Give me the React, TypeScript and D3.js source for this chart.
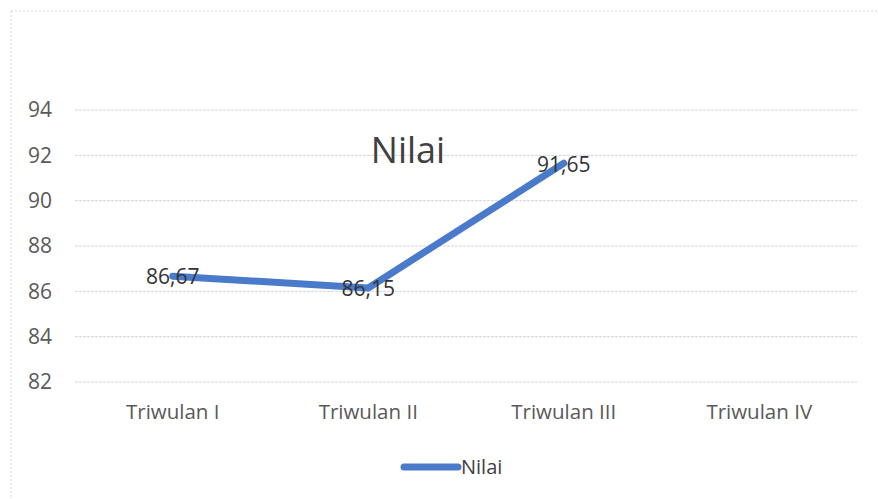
import React from "react";
import * as d3 from "d3";

const categories = ["Triwulan I", "Triwulan II", "Triwulan III", "Triwulan IV"];
const values: (number | null)[] = [86.67, 86.15, 91.65, null];
const valueLabels = ["86,67", "86,15", "91,65", ""];
const yTicks = [82, 84, 86, 88, 90, 92, 94];
const seriesName = "Nilai";
const title = "Nilai";

const W = 878;
const H = 499;
const FONT = "'Open Sans', Lato, sans-serif";

export default function App() {
  const x = d3.scaleBand<string>().domain(categories).range([75, 857]);
  const y = d3.scaleLinear().domain([82, 94]).range([382, 110]);
  const pts = categories
    .map((c, i) => ({ c, v: values[i], l: valueLabels[i] }))
    .filter((d) => d.v != null) as { c: string; v: number; l: string }[];
  const line = d3
    .line<{ c: string; v: number }>()
    .x((d) => (x(d.c) as number) + x.bandwidth() / 2)
    .y((d) => y(d.v));
  return (
    <svg
      width={W}
      height={H}
      style={{ position: "absolute", left: 0, top: 0, background: "#fff" }}
      fontFamily={FONT}
    >
      <rect x={0} y={0} width={W} height={H} fill="#fff" />
      <line x1={11} x2={W} y1={11} y2={11} stroke="#d9d9d9" strokeDasharray="2,2" />
      <line x1={11} x2={11} y1={11} y2={H} stroke="#d9d9d9" strokeDasharray="2,2" />
      {yTicks.map((t) => (
        <g key={t}>
          <line x1={75} x2={857} y1={y(t)} y2={y(t)} stroke="#d4d4dc" strokeWidth={1} strokeDasharray="3,1" />
          <text x={52} y={y(t)} dy="0.35em" textAnchor="end" fontSize={21} fill="#595959">
            {t}
          </text>
        </g>
      ))}
      {categories.map((c) => (
        <text
          key={c}
          x={(x(c) as number) + x.bandwidth() / 2}
          y={412}
          dy="0.35em"
          textAnchor="middle"
          fontSize={20.5}
          fill="#595959"
        >
          {c}
        </text>
      ))}
      <text x={408} y={150} dy="0.35em" textAnchor="middle" fontSize={36} fill="#404040">
        {title}
      </text>
      <path d={line(pts) || ""} fill="none" stroke="#4a7bcb" strokeWidth={7} strokeLinejoin="round" strokeLinecap="round" />
      {pts.map((d) => (
        <text
          key={d.c}
          x={(x(d.c) as number) + x.bandwidth() / 2}
          y={y(d.v) + 1}
          dy="0.35em"
          textAnchor="middle"
          fontSize={21}
          fill="#333"
        >
          {d.l}
        </text>
      ))}
      <line x1={404} x2={458} y1={467} y2={467} stroke="#4a7bcb" strokeWidth={7} strokeLinecap="round" />
      <text x={461} y={467} dy="0.35em" fontSize={20} fill="#404040">
        {seriesName}
      </text>
    </svg>
  );
}
